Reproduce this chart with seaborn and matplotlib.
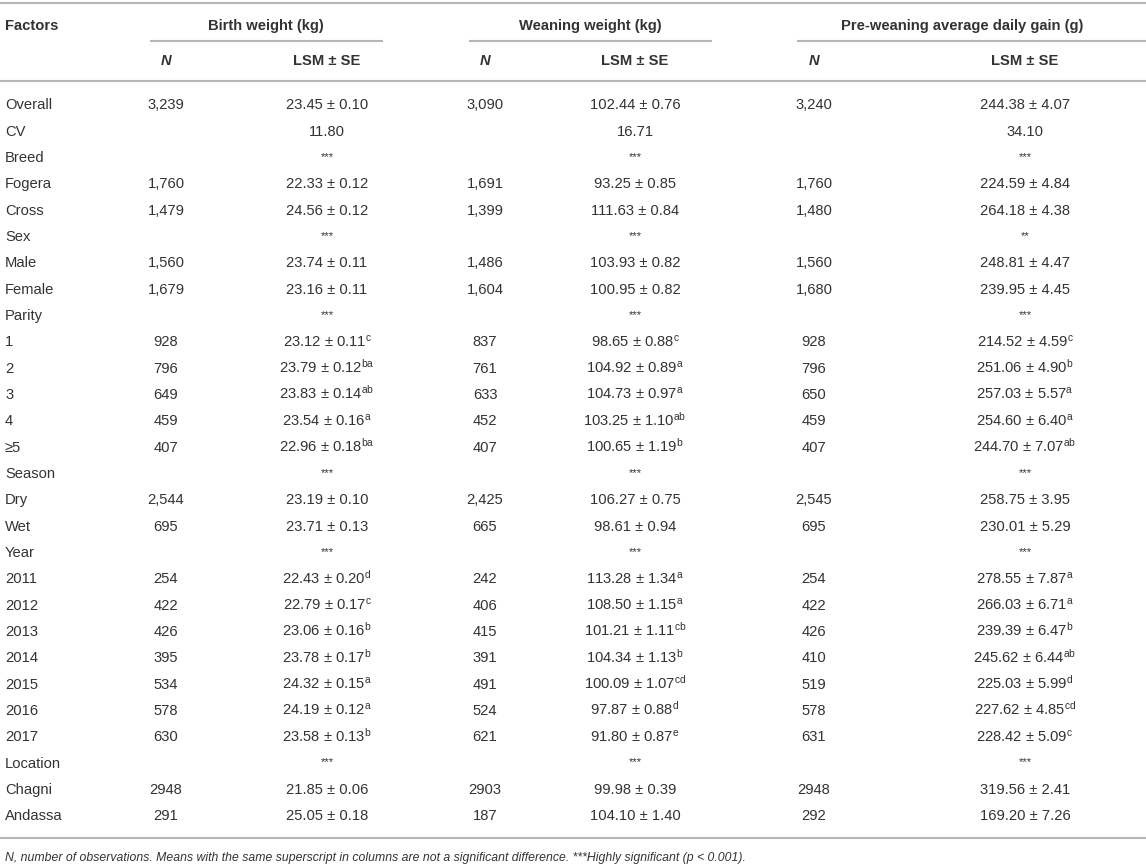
import matplotlib
matplotlib.use("Agg")
import matplotlib.pyplot as plt
import seaborn as sns
import pandas as pd

# ---------------- data ----------------
factors = ["Overall", "CV", "Breed", "Fogera", "Cross", "Sex", "Male", "Female",
           "Parity", "1", "2", "3", "4", "\u22655", "Season", "Dry", "Wet", "Year",
           "2011", "2012", "2013", "2014", "2015", "2016", "2017",
           "Location", "Chagni", "Andassa"]

traits = ["Birth weight (kg)", "Weaning weight (kg)", "Pre-weaning average daily gain (g)"]
sub_headers = ["N", "LSM \u00b1 SE"]

bw_n = ["3,239", "", "", "1,760", "1,479", "", "1,560", "1,679", "", "928", "796", "649",
        "459", "407", "", "2,544", "695", "", "254", "422", "426", "395", "534", "578",
        "630", "", "2948", "291"]
bw_mean = [23.45, None, None, 22.33, 24.56, None, 23.74, 23.16, None, 23.12, 23.79, 23.83,
           23.54, 22.96, None, 23.19, 23.71, None, 22.43, 22.79, 23.06, 23.78, 24.32, 24.19,
           23.58, None, 21.85, 25.05]
bw_se = [0.10, None, None, 0.12, 0.12, None, 0.11, 0.11, None, 0.11, 0.12, 0.14,
         0.16, 0.18, None, 0.10, 0.13, None, 0.20, 0.17, 0.16, 0.17, 0.15, 0.12,
         0.13, None, 0.06, 0.18]
bw_sup = ["", "", "", "", "", "", "", "", "", "c", "ba", "ab", "a", "ba", "", "", "", "",
          "d", "c", "b", "b", "a", "a", "b", "", "", ""]
bw_note = ["", "11.80", "***", "", "", "***", "", "", "***", "", "", "", "", "", "***", "", "",
           "***", "", "", "", "", "", "", "", "***", "", ""]

ww_n = ["3,090", "", "", "1,691", "1,399", "", "1,486", "1,604", "", "837", "761", "633",
        "452", "407", "", "2,425", "665", "", "242", "406", "415", "391", "491", "524",
        "621", "", "2903", "187"]
ww_mean = [102.44, None, None, 93.25, 111.63, None, 103.93, 100.95, None, 98.65, 104.92, 104.73,
           103.25, 100.65, None, 106.27, 98.61, None, 113.28, 108.50, 101.21, 104.34, 100.09, 97.87,
           91.80, None, 99.98, 104.10]
ww_se = [0.76, None, None, 0.85, 0.84, None, 0.82, 0.82, None, 0.88, 0.89, 0.97,
         1.10, 1.19, None, 0.75, 0.94, None, 1.34, 1.15, 1.11, 1.13, 1.07, 0.88,
         0.87, None, 0.39, 1.40]
ww_sup = ["", "", "", "", "", "", "", "", "", "c", "a", "a", "ab", "b", "", "", "", "",
          "a", "a", "cb", "b", "cd", "d", "e", "", "", ""]
ww_note = ["", "16.71", "***", "", "", "***", "", "", "***", "", "", "", "", "", "***", "", "",
           "***", "", "", "", "", "", "", "", "***", "", ""]

adg_n = ["3,240", "", "", "1,760", "1,480", "", "1,560", "1,680", "", "928", "796", "650",
         "459", "407", "", "2,545", "695", "", "254", "422", "426", "410", "519", "578",
         "631", "", "2948", "292"]
adg_mean = [244.38, None, None, 224.59, 264.18, None, 248.81, 239.95, None, 214.52, 251.06, 257.03,
            254.60, 244.70, None, 258.75, 230.01, None, 278.55, 266.03, 239.39, 245.62, 225.03, 227.62,
            228.42, None, 319.56, 169.20]
adg_se = [4.07, None, None, 4.84, 4.38, None, 4.47, 4.45, None, 4.59, 4.90, 5.57,
          6.40, 7.07, None, 3.95, 5.29, None, 7.87, 6.71, 6.47, 6.44, 5.99, 4.85,
          5.09, None, 2.41, 7.26]
adg_sup = ["", "", "", "", "", "", "", "", "", "c", "b", "a", "a", "ab", "", "", "", "",
           "a", "a", "b", "ab", "d", "cd", "c", "", "", ""]
adg_note = ["", "34.10", "***", "", "", "**", "", "", "***", "", "", "", "", "", "***", "", "",
            "***", "", "", "", "", "", "", "", "***", "", ""]

footnote = ("N, number of observations. Means with the same superscript in columns are not a "
            "significant difference. ***Highly significant (p < 0.001).")


def lsm_cells(mean, se, sup, note):
    out = []
    for m, s, u, n in zip(mean, se, sup, note):
        if m is None:
            out.append(n)
        else:
            t = f"{m:.2f} \u00b1 {s:.2f}"
            if u:
                t += "$^{\\mathrm{" + u + "}}$"
            out.append(t)
    return out


table = pd.DataFrame({
    "Factors": factors,
    "bw_N": bw_n, "bw_LSM": lsm_cells(bw_mean, bw_se, bw_sup, bw_note),
    "ww_N": ww_n, "ww_LSM": lsm_cells(ww_mean, ww_se, ww_sup, ww_note),
    "adg_N": adg_n, "adg_LSM": lsm_cells(adg_mean, adg_se, adg_sup, adg_note),
})

# ---------------- style ----------------
sns.set_theme(style="white")
plt.rcParams["font.family"] = ["Liberation Sans", "DejaVu Sans"]
plt.rcParams["mathtext.fontset"] = "custom"
plt.rcParams["mathtext.rm"] = "Liberation Sans"
plt.rcParams["mathtext.it"] = "Liberation Sans:italic"
plt.rcParams["mathtext.bf"] = "Liberation Sans:bold"

W, H = 1146, 868
fig = plt.figure(figsize=(W / 100, H / 100), dpi=100)
ax = fig.add_axes([0, 0, 1, 1])
ax.set_xlim(0, W)
ax.set_ylim(H, 0)
ax.axis("off")

TXT = "#333333"
LINE = "#b5b5b5"
FS = 10.6
BL = 5.3  # baseline offset from row centre (pixels)

col_x = {"bw_N": 166, "bw_LSM": 327, "ww_N": 485, "ww_LSM": 635, "adg_N": 814, "adg_LSM": 1025}
group_x = [266, 590, 962]
underline_spans = [(150, 383), (469, 712), (797, 1146)]

# rules
lw = 1.5
ax.hlines(3, 0, W, color=LINE, lw=lw)
for a, b in underline_spans:
    ax.hlines(41, a, b, color=LINE, lw=lw)
ax.hlines(81, 0, W, color=LINE, lw=lw)
ax.hlines(838, 0, W, color=LINE, lw=lw)

# header
hy1, hy2 = 25, 60
ax.text(5, hy1 + BL, "Factors", ha="left", va="baseline", fontsize=FS, fontweight="bold", color=TXT)
for gx, t in zip(group_x, traits):
    ax.text(gx, hy1 + BL, t, ha="center", va="baseline", fontsize=FS, fontweight="bold", color=TXT)
for pref in ["bw", "ww", "adg"]:
    ax.text(col_x[pref + "_N"], hy2 + BL, sub_headers[0], ha="center", va="baseline", fontsize=FS,
            fontweight="bold", fontstyle="italic", color=TXT)
    ax.text(col_x[pref + "_LSM"], hy2 + BL, sub_headers[1], ha="center", va="baseline", fontsize=FS,
            fontweight="bold", color=TXT)

# body
y0, dy = 104, 26.33
for i, row in table.iterrows():
    y = y0 + i * dy + BL
    ax.text(5, y, row["Factors"], ha="left", va="baseline", fontsize=FS, color=TXT)
    for c, x in col_x.items():
        val = row[c]
        if not val:
            continue
        if "*" in val:
            ax.text(x, y - 2, val, ha="center", va="baseline", fontsize=FS - 2.5, color=TXT)
        else:
            ax.text(x, y, val, ha="center", va="baseline", fontsize=FS, color=TXT)

ax.text(5, 857 + 4, footnote, ha="left", va="baseline", fontsize=8.8, fontstyle="italic", color=TXT)

fig.savefig("out.png", dpi=100)
